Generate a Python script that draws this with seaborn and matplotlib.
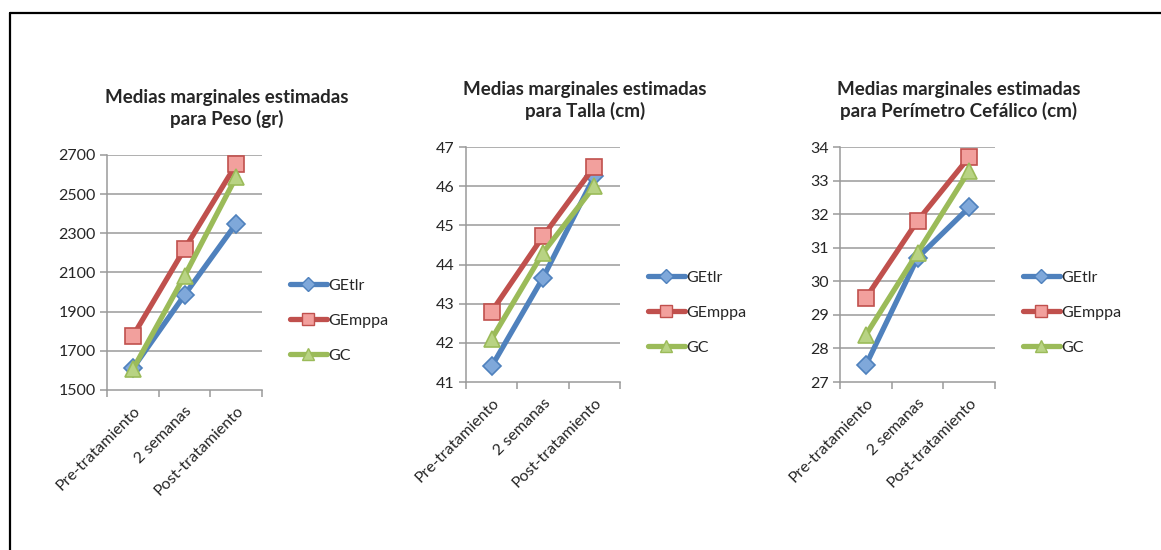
import matplotlib
matplotlib.use("Agg")
import matplotlib.pyplot as plt
from matplotlib.lines import Line2D
import seaborn as sns
import pandas as pd

# Estimated marginal means per group and time point
momentos = ["Pre-tratamiento", "2 semanas", "Post-tratamiento"]
grupos = ["GEtlr", "GEmppa", "GC"]

peso_getlr = [1610, 1985, 2350]
peso_gemppa = [1775, 2220, 2652]
peso_gc = [1605, 2082, 2588]

talla_getlr = [41.4, 43.66, 46.25]
talla_gemppa = [42.8, 44.72, 46.5]
talla_gc = [42.1, 44.3, 46.0]

pc_getlr = [27.5, 30.7, 32.2]
pc_gemppa = [29.5, 31.8, 33.7]
pc_gc = [28.4, 30.85, 33.3]

titulos = [
    "Medias marginales estimadas\npara Peso (gr)",
    "Medias marginales estimadas\npara Talla (cm)",
    "Medias marginales estimadas\npara Perímetro Cefálico (cm)",
]
yticks_peso = [1500, 1700, 1900, 2100, 2300, 2500, 2700]
yticks_talla = [41, 42, 43, 44, 45, 46, 47]
yticks_pc = [27, 28, 29, 30, 31, 32, 33, 34]

colores = {"GEtlr": "#4F81BD", "GEmppa": "#C0504D", "GC": "#9BBB59"}
rellenos = {"GEtlr": "#7FA8DA", "GEmppa": "#F2A09D", "GC": "#B8D383"}
marcadores = {"GEtlr": "D", "GEmppa": "s", "GC": "^"}
tam_marcador = {"GEtlr": 9, "GEmppa": 11, "GC": 11}

sns.set_theme(style="white")
plt.rcParams["font.family"] = ["Lato", "DejaVu Sans"]

W, H = 1161, 550
fig = plt.figure(figsize=(W / 100, H / 100), dpi=100)


def rect(l, r, t, b):
    return [l / W, 1 - b / H, (r - l) / W, (b - t) / H]


def tabla(a, b, c):
    filas = []
    for g, vals in zip(grupos, (a, b, c)):
        for i, v in enumerate(vals):
            filas.append({"x": i, "valor": v, "grupo": g})
    return pd.DataFrame(filas)


paneles = [
    (tabla(peso_getlr, peso_gemppa, peso_gc), yticks_peso, (107, 262, 155, 390), 227, (97, 120), (287, 354), 290),
    (tabla(talla_getlr, talla_gemppa, talla_gc), yticks_talla, (466, 620, 147, 382), 585, (89, 112), (279, 346), 648),
    (tabla(pc_getlr, pc_gemppa, pc_gc), yticks_pc, (840, 995, 147, 382), 959, (89, 112), (279, 346), 1023),
]

gris = "#9A9A9A"

for (df, yt, caja, tx, ty, leg_y, leg_x), titulo in zip(paneles, titulos):
    ax = fig.add_axes(rect(*caja))
    ax.set_facecolor("none")
    for y in yt[1:]:
        ax.axhline(y, color=gris, lw=1.1, zorder=0)
    sns.lineplot(
        data=df, x="x", y="valor", hue="grupo", style="grupo",
        palette=colores, markers=marcadores, dashes=False,
        linewidth=3.8, legend=False, ax=ax, zorder=3,
    )
    for line, g in zip(ax.get_lines()[len(yt) - 1:], grupos):
        line.set_markerfacecolor(rellenos[g])
        line.set_markeredgecolor(colores[g])
        line.set_markersize(tam_marcador[g])
        line.set_markeredgewidth(1.2)
        line.set_solid_capstyle("round")

    ax.set_xlim(-0.5, 2.5)
    ax.set_ylim(yt[0], yt[-1])
    ax.set_yticks(yt)
    ax.set_yticklabels([str(v) for v in yt], fontsize=11.5)
    ax.set_xticks([0, 1, 2])
    ax.set_xticklabels(momentos, rotation=45, ha="right", rotation_mode="anchor", fontsize=11.5)
    ax.set_xticks([-0.5, 0.5, 1.5, 2.5], minor=True)
    ax.tick_params(axis="x", which="major", length=0, pad=10)
    ax.tick_params(axis="x", which="minor", length=5, color=gris, width=1.1, direction="out", bottom=True)
    ax.tick_params(axis="y", length=5, color=gris, width=1.1, direction="out", left=True, pad=3)
    ax.set_xlabel("")
    ax.set_ylabel("")
    for s in ["top", "right"]:
        ax.spines[s].set_visible(False)
    for s in ["left", "bottom"]:
        ax.spines[s].set_color(gris)
        ax.spines[s].set_linewidth(1.1)
    ax.grid(False)

    fig.text(tx / W, 1 - (ty[0] + ty[1]) / 2 / H, titulo, ha="center", va="center",
             fontsize=13.5, fontweight="bold", linespacing=1.25)

    handles = [
        Line2D([], [], color=colores[g], lw=3.8, marker=marcadores[g],
               markersize=tam_marcador[g] * 0.8, markerfacecolor=rellenos[g],
               markeredgecolor=colores[g], solid_capstyle="round")
        for g in grupos
    ]
    ax.legend(handles, grupos, loc="center left",
              bbox_to_anchor=((leg_x - 8) / W, 1 - (leg_y[0] + leg_y[1]) / 2 / H),
              bbox_transform=fig.transFigure, frameon=False, fontsize=11.5,
              handlelength=2.3, handletextpad=0.1, labelspacing=1.3, borderpad=0)

# Frame lines along the left and top edges
fig.add_artist(Line2D([10 / W, 10 / W], [0, 1 - 13 / H], color="black", lw=1.6, transform=fig.transFigure))
fig.add_artist(Line2D([10 / W, 1], [1 - 13 / H, 1 - 13 / H], color="black", lw=1.6, transform=fig.transFigure))

fig.savefig("out.png", dpi=100, facecolor="white")
